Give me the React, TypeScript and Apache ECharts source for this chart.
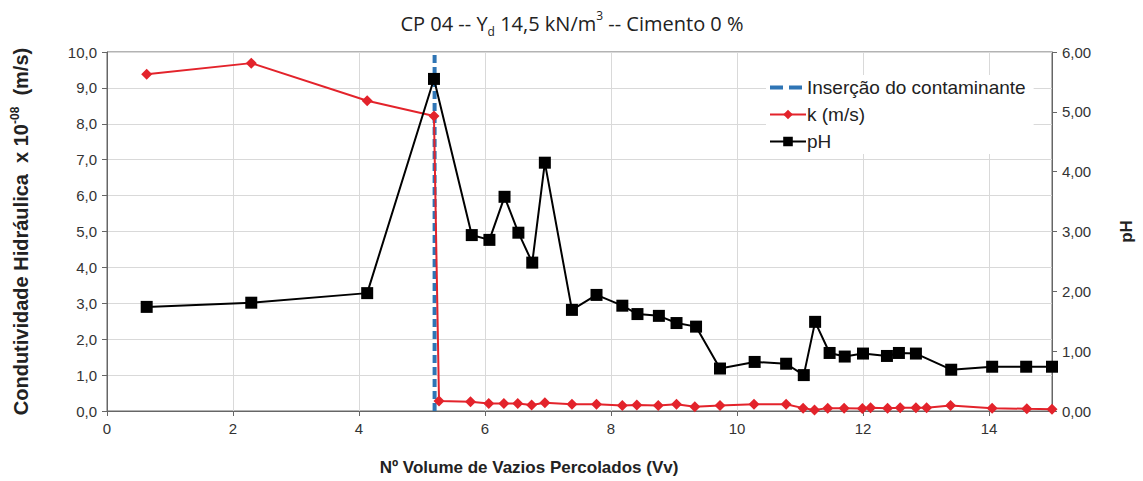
import React, { useEffect, useRef } from "react";
import * as echarts from "echarts";

const xK = [0.63, 2.29, 4.13, 5.19, 5.27, 5.77, 6.06, 6.3, 6.52, 6.74, 6.95, 7.38, 7.77, 8.18, 8.41, 8.75, 9.04, 9.33, 9.73, 10.27, 10.78, 11.05, 11.23, 11.44, 11.7, 11.99, 12.12, 12.39, 12.59, 12.84, 13.01, 13.39, 14.05, 14.6, 15.0];
const kVals = [9.38, 9.69, 8.64, 8.22, 0.28, 0.26, 0.21, 0.21, 0.21, 0.17, 0.23, 0.19, 0.19, 0.15, 0.17, 0.15, 0.19, 0.12, 0.15, 0.19, 0.19, 0.08, 0.03, 0.08, 0.08, 0.07, 0.09, 0.08, 0.09, 0.09, 0.09, 0.15, 0.08, 0.06, 0.05];
const xPH = [0.63, 2.29, 4.13, 5.19, 5.79, 6.07, 6.31, 6.53, 6.75, 6.95, 7.38, 7.77, 8.18, 8.42, 8.76, 9.04, 9.35, 9.73, 10.28, 10.78, 11.06, 11.24, 11.47, 11.71, 12.0, 12.38, 12.57, 12.84, 13.4, 14.05, 14.59, 15.0];
const phVals = [1.74, 1.81, 1.97, 5.55, 2.94, 2.86, 3.58, 2.98, 2.48, 4.15, 1.69, 1.94, 1.76, 1.62, 1.59, 1.47, 1.41, 0.71, 0.82, 0.79, 0.6, 1.49, 0.97, 0.91, 0.96, 0.92, 0.97, 0.96, 0.69, 0.74, 0.74, 0.74];
const insertionX = [5.2, 5.2];
const insertionY = [0, 10];

const seriesNames = ["Inserção do contaminante", "k (m/s)", "pH"];

const FONT = "'Liberation Sans', Arial, sans-serif";
const TFONT = "'Open Sans', sans-serif";

export default function App() {
  const ref = useRef<HTMLDivElement>(null);
  useEffect(() => {
    if (!ref.current) return;
    const chart = echarts.init(ref.current, null, { renderer: "svg" });
    chart.setOption({
      animation: false,
      backgroundColor: "#fff",
      title: {
        text: "{a|CP 04 -- Y}{sub|d}{a| 14,5 kN/m}{sup|3}{a| -- Cimento 0 %}",
        left: 567,
        textAlign: "center",
        top: 4,
        textStyle: {
          fontWeight: "normal",
          rich: {
            a: { fontFamily: TFONT, fontSize: 20, fontWeight: "normal", color: "#222", lineHeight: 28 },
            sub: { fontFamily: TFONT, fontSize: 12, fontWeight: "normal", color: "#222", lineHeight: 12, verticalAlign: "bottom" },
            sup: { fontFamily: TFONT, fontSize: 12, fontWeight: "normal", color: "#222", lineHeight: 12, verticalAlign: "top" },
          },
        },
      },
      grid: { left: 107, right: 86, top: 52, bottom: 70, show: true, borderColor: "#666", borderWidth: 1, backgroundColor: "transparent" },
      legend: {
        orient: "vertical",
        left: 766,
        top: 75,
        data: [
          { name: seriesNames[0], itemStyle: { color: "rgba(0,0,0,0)", borderWidth: 0 }, lineStyle: { color: "#2f75b5", width: 4, type: [13, 6] } },
          { name: seriesNames[1] },
          { name: seriesNames[2] },
        ],
        itemWidth: 36,
        itemHeight: 12,
        itemGap: 8,
        backgroundColor: "#fff",
        padding: [3, 8, 3, 2],
        textStyle: { fontFamily: FONT, fontSize: 19, color: "#222", padding: [0, 0, 0, -4] },
      },
      graphic: [
        {
          type: "text",
          x: 529,
          y: 467,
          style: {
            text: "Nº Volume de Vazios Percolados (Vv)",
            fontFamily: FONT,
            fontSize: 17,
            fontWeight: "bold",
            fill: "#222",
            textAlign: "center",
            textVerticalAlign: "middle",
          },
        },
      ],
      xAxis: {
        type: "value",
        min: 0,
        max: 15,
        interval: 2,
        axisLine: { show: true, lineStyle: { color: "#666", width: 1 } },
        axisTick: { show: true, inside: false, length: 5, lineStyle: { color: "#666" } },
        axisLabel: { showMaxLabel: false, fontFamily: FONT, fontSize: 15, color: "#333", margin: 10 },
        splitLine: { show: true, lineStyle: { color: "#d9d9d9", width: 1 } },
      },
      yAxis: [
        {
          type: "value",
          min: 0,
          max: 10,
          interval: 1,
          position: "left",
          name: "{b|Condutividade Hidráulica  x 10}{sup|-08}{b|  (m/s)}",
          nameLocation: "middle",
          nameGap: 74,
          nameRotate: 90,
          nameTextStyle: {
            rich: {
              b: { fontFamily: FONT, fontSize: 20, fontWeight: "bold", color: "#222", lineHeight: 24 },
              sup: { fontFamily: FONT, fontSize: 12, fontWeight: "bold", color: "#222", lineHeight: 12, verticalAlign: "top" },
            },
          },
          axisLine: { show: true, lineStyle: { color: "#666", width: 1 } },
          axisTick: { show: true, length: 5, lineStyle: { color: "#666" } },
          axisLabel: {
            fontFamily: FONT,
            fontSize: 15,
            color: "#333",
            margin: 10,
            formatter: (v: number) => v.toFixed(1).replace(".", ","),
          },
          splitLine: { show: true, lineStyle: { color: "#d9d9d9", width: 1 } },
        },
        {
          type: "value",
          min: 0,
          max: 6,
          interval: 1,
          position: "right",
          name: "pH",
          nameLocation: "middle",
          nameGap: 66,
          nameRotate: 90,
          nameTextStyle: { fontFamily: FONT, fontSize: 17, fontWeight: "bold", color: "#222" },
          axisLine: { show: true, lineStyle: { color: "#666", width: 1 } },
          axisTick: { show: true, length: 5, lineStyle: { color: "#666" } },
          axisLabel: {
            fontFamily: FONT,
            fontSize: 15,
            color: "#333",
            margin: 10,
            formatter: (v: number) => v.toFixed(2).replace(".", ","),
          },
          splitLine: { show: false },
        },
      ],
      series: [
        {
          name: seriesNames[0],
          type: "line",
          yAxisIndex: 0,
          data: insertionX.map((x, i) => [x, insertionY[i]]),
          symbol: "none",
          lineStyle: { color: "#2f75b5", width: 4, type: [8, 4] },
          itemStyle: { color: "#2f75b5" },
          z: 2,
        },
        {
          name: seriesNames[1],
          type: "line",
          yAxisIndex: 0,
          data: xK.map((x, i) => [x, kVals[i]]),
          symbol: "diamond",
          symbolSize: 11,
          lineStyle: { color: "#e3232b", width: 2 },
          itemStyle: { color: "#e3232b" },
          z: 3,
        },
        {
          name: seriesNames[2],
          type: "line",
          yAxisIndex: 1,
          data: xPH.map((x, i) => [x, phVals[i]]),
          symbol: "rect",
          symbolSize: 12,
          lineStyle: { color: "#000", width: 2 },
          itemStyle: { color: "#000" },
          z: 4,
        },
      ],
    });
    return () => chart.dispose();
  }, []);
  return <div ref={ref} style={{ width: 1143, height: 481, position: "absolute", left: 0, top: 0 }} />;
}
